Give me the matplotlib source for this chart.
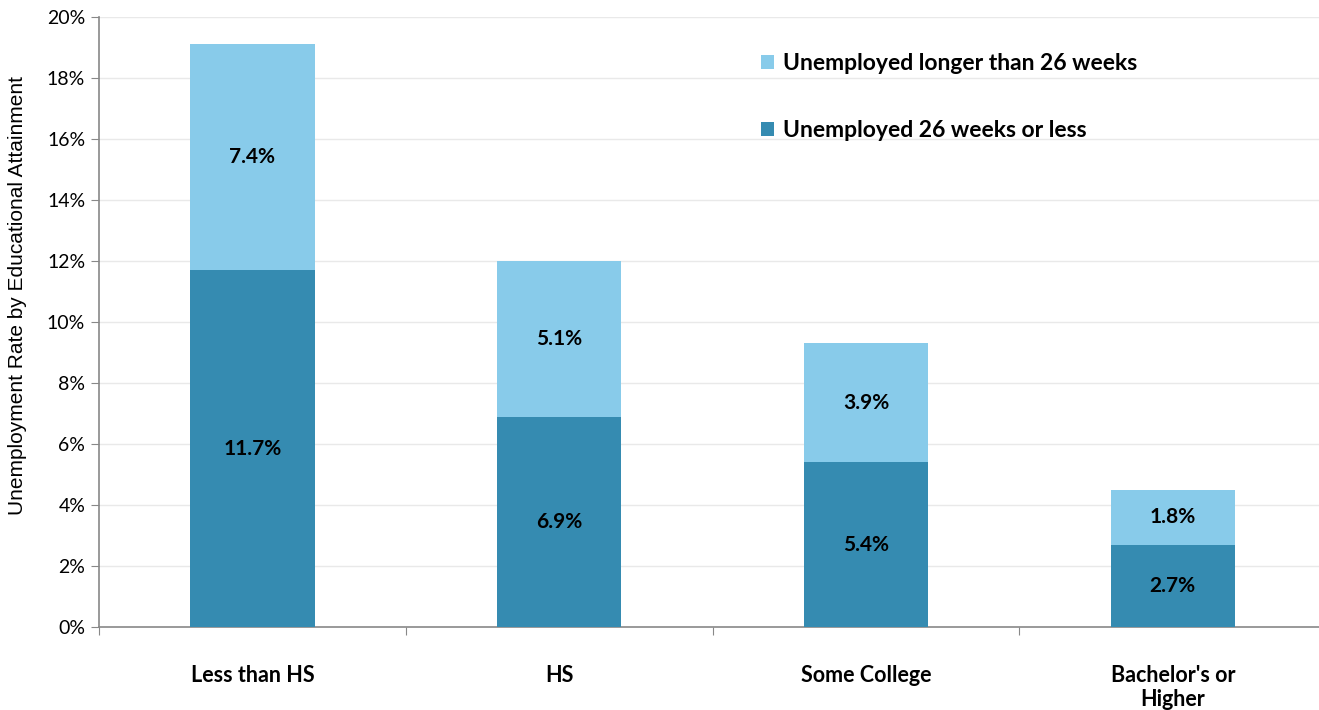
import matplotlib.pyplot as plt
import numpy as np
from matplotlib.ticker import FuncFormatter, FixedLocator

# Unemployment by educational attainment, split by duration
categories = ["Less than HS", "HS", "Some College", "Bachelor's or\nHigher"]
short_term = [11.7, 6.9, 5.4, 2.7]
long_term = [7.4, 5.1, 3.9, 1.8]

DARK = '#358bb1'
LIGHT = '#88cbea'

plt.rcParams['font.family'] = ['Lato', 'DejaVu Sans']

fig = plt.figure(figsize=(13.19, 7.10), dpi=100)
ax = fig.add_axes([0.0751, 0.1169, 0.928, 0.8591])

x = np.arange(len(categories))
width = 0.405
b1 = ax.bar(x, short_term, width, color=DARK, label='Unemployed 26 weeks or less', zorder=3)
b2 = ax.bar(x, long_term, width, bottom=short_term, color=LIGHT,
            label='Unemployed longer than 26 weeks', zorder=3)

for xi, s, l in zip(x, short_term, long_term):
    ax.text(xi, s / 2, f'{s:.1f}%', ha='center', va='center',
            fontsize=15, fontweight='bold', color='black', zorder=4)
    ax.text(xi, s + l / 2, f'{l:.1f}%', ha='center', va='center',
            fontsize=15, fontweight='bold', color='black', zorder=4)

ax.set_xlim(-0.5, 3.49)
ax.set_ylim(0, 20)
ax.set_yticks(np.arange(0, 21, 2))
ax.yaxis.set_major_formatter(FuncFormatter(lambda v, p: f'{v:.0f}%'))
ax.tick_params(axis='y', labelsize=14, length=6, color='#888888', pad=4)
ax.grid(axis='y', color='#e9e9e9', linewidth=1, zorder=0)

# category boundaries get tick marks, labels sit in between
ax.xaxis.set_major_locator(FixedLocator([-0.5, 0.5, 1.5, 2.5]))
ax.xaxis.set_major_formatter(FuncFormatter(lambda v, p: ''))
ax.xaxis.set_minor_locator(FixedLocator(x))
ax.set_xticklabels(categories, minor=True, fontsize=15.5, fontweight='bold',
                   linespacing=1.2)
ax.tick_params(axis='x', which='major', length=6, color='#888888')
ax.tick_params(axis='x', which='minor', length=0, pad=27)

for side in ['top', 'right']:
    ax.spines[side].set_visible(False)
for side in ['left', 'bottom']:
    ax.spines[side].set_color('#888888')
    ax.spines[side].set_linewidth(1.2)

ax.set_ylabel('Unemployment Rate by Educational Attainment', fontsize=15,
              family=['Liberation Sans', 'DejaVu Sans'])
ax.yaxis.set_label_coords(-0.059, 0.543)

leg = ax.legend(handles=[b2, b1], loc='upper left', bbox_to_anchor=(0.524, 0.975),
                frameon=False, prop={'weight': 'bold', 'size': 16.5},
                handlelength=0.55, handleheight=0.55, labelspacing=2.0, handletextpad=0.4)

fig.savefig('out.png', dpi=100)
